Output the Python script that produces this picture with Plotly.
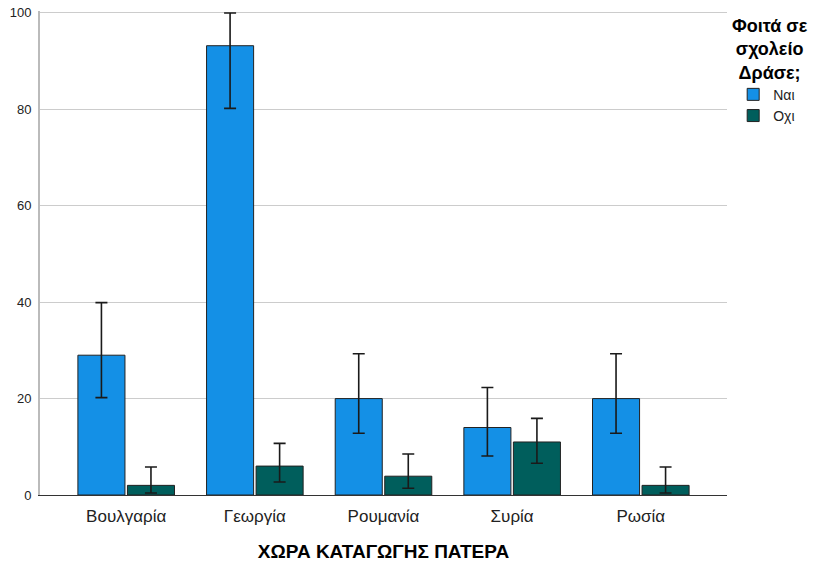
import plotly.graph_objects as go

countries = ["Βουλγαρία", "Γεωργία", "Ρουμανία", "Συρία", "Ρωσία"]

yes_vals = [29, 93.2, 20, 14, 20]
yes_hi = [39.9, 100, 29.3, 22.3, 29.3]
yes_lo = [20.2, 80.2, 12.8, 8.1, 12.8]

no_vals = [2, 6, 3.9, 11, 2]
no_hi = [5.8, 10.7, 8.5, 15.9, 5.8]
no_lo = [0.4, 2.7, 1.4, 6.6, 0.4]

FONT = "Liberation Sans, Arial, sans-serif"


def err(vals, hi, lo):
    return dict(
        type="data", symmetric=False,
        array=[h - v for h, v in zip(hi, vals)],
        arrayminus=[v - l for v, l in zip(vals, lo)],
        color="#1a1a1a", thickness=1.6, width=6,
    )


fig = go.Figure()
fig.add_trace(go.Bar(
    x=countries, y=yes_vals, name="Ναι",
    marker=dict(color="#1490e6", line=dict(color="#222222", width=1)),
    error_y=err(yes_vals, yes_hi, yes_lo),
))
fig.add_trace(go.Bar(
    x=countries, y=no_vals, name="Οχι",
    marker=dict(color="#005e5c", line=dict(color="#222222", width=1)),
    error_y=err(no_vals, no_hi, no_lo),
))

# Legend title drawn as an annotation so it can be centred on three lines
fig.add_annotation(
    xref="paper", yref="paper", x=1.0626, y=0.993, xanchor="center", yanchor="top",
    text="<b>Φοιτά σε<br>σχολείο<br>Δράσε;</b>", showarrow=False,
    font=dict(family=FONT, size=18, color="#000000"), align="center",
)

fig.update_layout(
    width=814, height=567,
    paper_bgcolor="#ffffff", plot_bgcolor="#ffffff",
    margin=dict(l=40, r=87, t=11, b=72, autoexpand=False),
    barmode="group", bargap=0.23, bargroupgap=0.05,
    font=dict(family=FONT, size=12, color="#000000"),
    legend=dict(
        x=1.009, y=0.86, xanchor="left", yanchor="top",
        font=dict(family=FONT, size=14, color="#222222"),
        itemwidth=30, tracegroupgap=0, bgcolor="rgba(0,0,0,0)",
    ),
    xaxis=dict(
        range=[-0.67, 4.67], automargin=False,
        title=dict(text="<b>ΧΩΡΑ ΚΑΤΑΓΩΓΗΣ ΠΑΤΕΡΑ</b>", font=dict(size=19, family=FONT), standoff=19),
        tickfont=dict(size=17, family=FONT, color="#222222"),
        ticklabelstandoff=6,
        showline=True, linecolor="#333333", linewidth=1,
        ticks="", showgrid=False,
    ),
    yaxis=dict(
        range=[0, 100.4], tickvals=[0, 20, 40, 60, 80, 100], automargin=False,
        tickfont=dict(size=13, family=FONT, color="#222222"),
        ticklabelstandoff=4, ticklabeloverflow="allow",
        showgrid=True, gridcolor="#cccccc", gridwidth=1,
        showline=True, linecolor="#bbbbbb", linewidth=2,
        ticks="", ticklen=0, zeroline=False,
    ),
)

# drop the default body margin so the figure fills the window exactly
fig.write_html(
    "out.html",
    config={"displayModeBar": False},
    post_script="document.body.style.margin='0';",
)
